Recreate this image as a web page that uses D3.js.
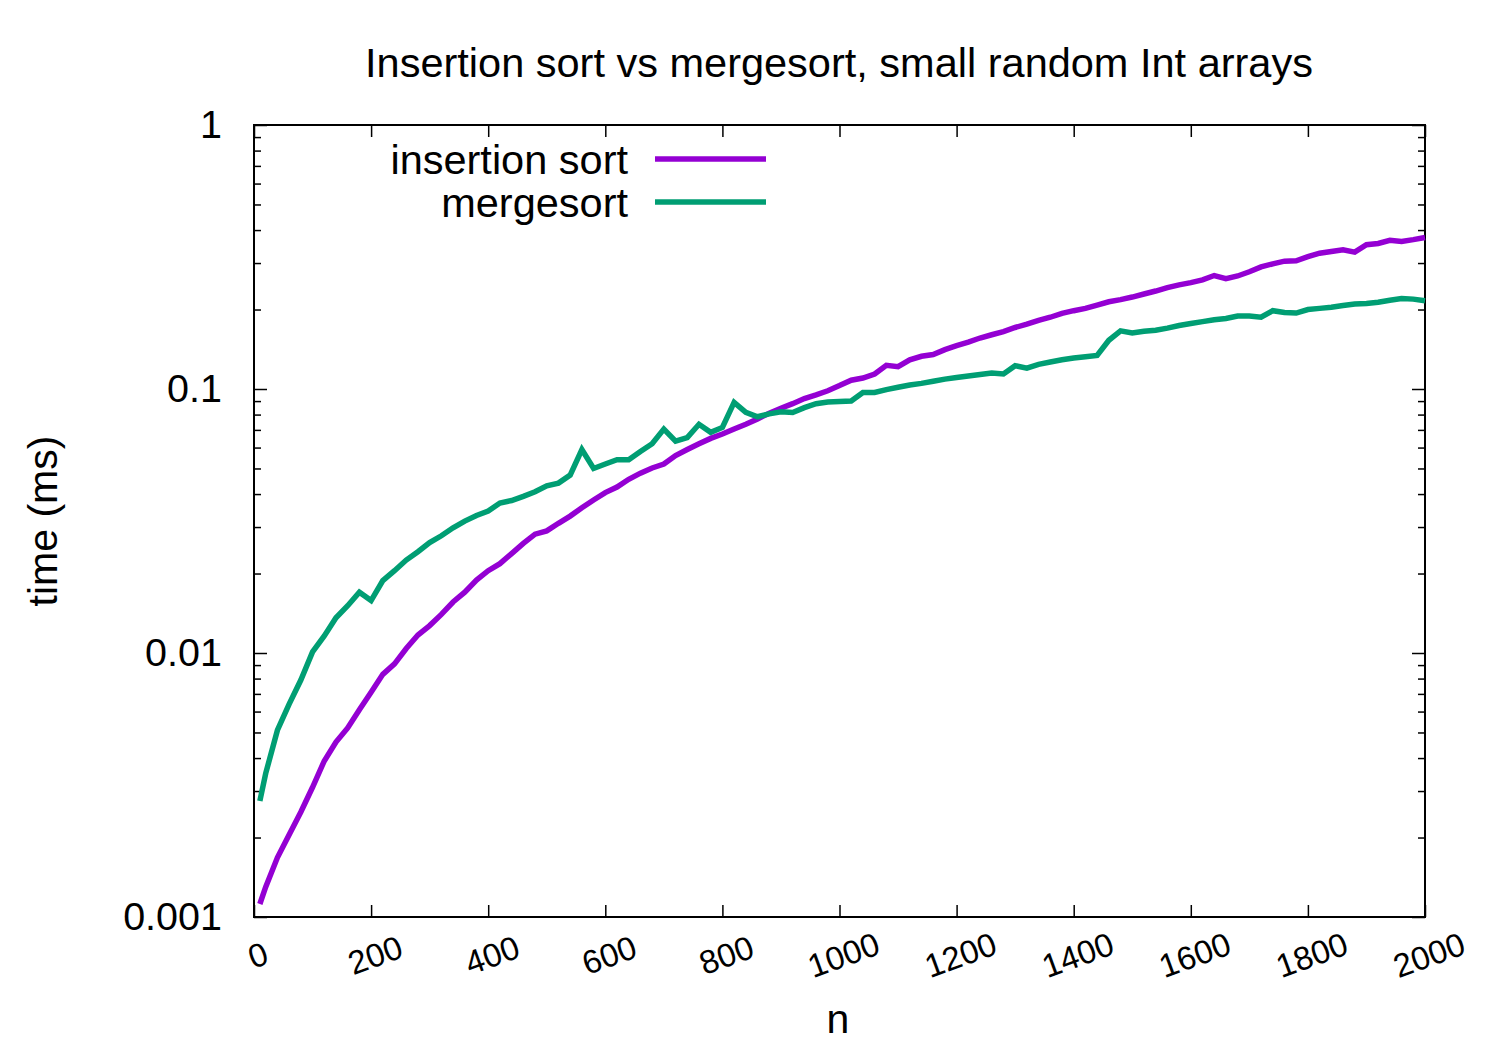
<!DOCTYPE html>
<html>
<head>
<meta charset="utf-8">
<script src="https://cdn.jsdelivr.net/npm/d3@7"></script>
<style>
  html, body { margin: 0; padding: 0; background: #fff; }
  svg { display: block; font-family: "Liberation Sans", Arial, sans-serif; }
</style>
</head>
<body>
<svg id="chart" width="1500" height="1050"></svg>
<script>
// ---- data ----
const nValues = [10,20,40,60,80,100,120,140,160,180,200,220,240,260,280,300,320,340,360,380,
  400,420,440,460,480,500,520,540,560,580,600,620,640,660,680,700,720,740,760,780,
  800,820,840,860,880,900,920,940,960,980,1000,1020,1040,1060,1080,1100,1120,1140,1160,1180,
  1200,1220,1240,1260,1280,1300,1320,1340,1360,1380,1400,1420,1440,1460,1480,1500,1520,1540,1560,1580,
  1600,1620,1640,1660,1680,1700,1720,1740,1760,1780,1800,1820,1840,1860,1880,1900,1920,1940,1960,1980,2000];

const insertionMs = [0.00112,0.0013,0.00168,0.00205,0.0025,0.0031,0.0039,0.0046,0.0052,0.0061,
  0.0071,0.0083,0.0091,0.0104,0.0117,0.0127,0.0140,0.0156,0.0170,0.0189,
  0.0205,0.0218,0.0238,0.0260,0.0282,0.0290,0.0310,0.0330,0.0355,0.0380,
  0.0405,0.0425,0.0455,0.0480,0.0502,0.0520,0.0560,0.0590,0.0620,0.0650,
  0.0675,0.0705,0.0735,0.0770,0.0810,0.0845,0.0880,0.0920,0.0950,0.0985,
  0.1030,0.1080,0.1100,0.1140,0.1230,0.1215,0.1290,0.1330,0.1350,0.1410,
  0.1460,0.1505,0.1560,0.1605,0.1650,0.1710,0.1760,0.1820,0.1870,0.1935,
  0.1980,0.2020,0.2080,0.2140,0.2180,0.2230,0.2290,0.2350,0.2420,0.2480,
  0.2530,0.2590,0.2690,0.2620,0.2680,0.2780,0.2900,0.2980,0.3050,0.3060,
  0.3170,0.3270,0.3320,0.3370,0.3300,0.3520,0.3560,0.3660,0.3620,0.3680,0.3750];

const mergesortMs = [0.00275,0.0035,0.0051,0.0064,0.0079,0.0101,0.0116,0.0136,0.0151,0.0170,
  0.0158,0.0188,0.0205,0.0225,0.0242,0.0262,0.0278,0.0298,0.0316,0.0332,
  0.0345,0.0370,0.0378,0.0392,0.0408,0.0430,0.0440,0.0472,0.0590,0.0500,
  0.0520,0.0540,0.0540,0.0580,0.0620,0.0705,0.0635,0.0655,0.0735,0.0685,
  0.0715,0.0890,0.0815,0.0785,0.0805,0.0820,0.0815,0.0850,0.0880,0.0893,
  0.0897,0.0900,0.0970,0.0970,0.0995,0.1015,0.1036,0.1050,0.1070,0.1090,
  0.1105,0.1120,0.1135,0.1150,0.1140,0.1225,0.1200,0.1240,0.1265,0.1290,
  0.1310,0.1325,0.1340,0.1530,0.1660,0.1630,0.1655,0.1670,0.1700,0.1740,
  0.1770,0.1800,0.1830,0.1850,0.1890,0.1890,0.1870,0.1980,0.1950,0.1940,
  0.2000,0.2020,0.2040,0.2070,0.2100,0.2110,0.2130,0.2170,0.2200,0.2190,0.2160];

const seriesNames = ["insertion sort", "mergesort"];
const seriesColors = ["#9400d3", "#009e73"];
const xTickValues = [0,200,400,600,800,1000,1200,1400,1600,1800,2000];
const yMajorTicks = [0.001, 0.01, 0.1, 1];
const yTickLabels = ["0.001", "0.01", "0.1", "1"];
const titleText = "Insertion sort vs mergesort, small random Int arrays";
const xLabelText = "n";
const yLabelText = "time (ms)";

// ---- layout ----
const L = 254, R = 1425, T = 125, B = 917;
const svg = d3.select("#chart");
const x = d3.scaleLinear().domain([0, 2000]).range([L, R]);
const y = d3.scaleLog().domain([0.001, 1]).range([B, T]);

const yMinorTicks = [];
for (let d = 0.001; d < 1; d *= 10) {
  for (let k = 2; k <= 9; k++) yMinorTicks.push(+(d * k).toPrecision(3));
}

function styleAxis(g) {
  g.select(".domain").remove();
  g.selectAll(".tick line").attr("stroke", "#000").attr("stroke-width", 1.5);
}

// ticks
svg.append("g").attr("transform", `translate(0,${B})`)
  .call(d3.axisBottom(x).tickValues(xTickValues).tickSize(-12).tickFormat(""))
  .call(styleAxis);
svg.append("g").attr("transform", `translate(0,${T})`)
  .call(d3.axisTop(x).tickValues(xTickValues).tickSize(-12).tickFormat(""))
  .call(styleAxis);

const yLeft = svg.append("g").attr("transform", `translate(${L},0)`)
  .call(d3.axisLeft(y).tickValues(yMajorTicks).tickSize(-13).tickPadding(32)
    .tickFormat((d, i) => yTickLabels[i]))
  .call(styleAxis);
yLeft.selectAll(".tick text").attr("font-size", 39.5).attr("fill", "#000")
  .attr("font-family", "'Liberation Sans', Arial, sans-serif");
svg.append("g").attr("transform", `translate(${L},0)`)
  .call(d3.axisLeft(y).tickValues(yMinorTicks).tickSize(-7).tickFormat(""))
  .call(styleAxis);
svg.append("g").attr("transform", `translate(${R},0)`)
  .call(d3.axisRight(y).tickValues(yMajorTicks).tickSize(-13).tickFormat(""))
  .call(styleAxis);
svg.append("g").attr("transform", `translate(${R},0)`)
  .call(d3.axisRight(y).tickValues(yMinorTicks).tickSize(-7).tickFormat(""))
  .call(styleAxis);

// rotated x tick labels
svg.append("g").selectAll("text").data(xTickValues).join("text")
  .attr("transform", d => `translate(${x(d) + 4},955) rotate(-20)`)
  .attr("text-anchor", "middle")
  .attr("dominant-baseline", "central")
  .attr("font-size", 33)
  .text(d => d);

// border
svg.append("rect").attr("x", L).attr("y", T).attr("width", R - L).attr("height", B - T)
  .attr("fill", "none").attr("stroke", "#000").attr("stroke-width", 2);

// lines
const line = d3.line().x((d, i) => x(nValues[i])).y(d => y(d));
[insertionMs, mergesortMs].forEach((vals, s) => {
  svg.append("path").datum(vals)
    .attr("d", line)
    .attr("fill", "none")
    .attr("stroke", seriesColors[s])
    .attr("stroke-width", 5.5)
    .attr("stroke-linejoin", "miter");
});

// legend
seriesNames.forEach((name, s) => {
  const ly = 159 + s * 43;
  svg.append("text").attr("x", 628).attr("y", ly)
    .attr("text-anchor", "end").attr("dominant-baseline", "central")
    .attr("font-size", 41.5).text(name);
  svg.append("line").attr("x1", 655).attr("x2", 766).attr("y1", ly).attr("y2", ly)
    .attr("stroke", seriesColors[s]).attr("stroke-width", 5.5);
});

// title and axis labels
svg.append("text").attr("x", 839).attr("y", 77).attr("text-anchor", "middle")
  .attr("font-size", 41.5).text(titleText);
svg.append("text").attr("x", 838).attr("y", 1033).attr("text-anchor", "middle")
  .attr("font-size", 41).text(xLabelText);
svg.append("text").attr("transform", "translate(57,521) rotate(-90)")
  .attr("text-anchor", "middle").attr("font-size", 41).text(yLabelText);
</script>
</body>
</html>
